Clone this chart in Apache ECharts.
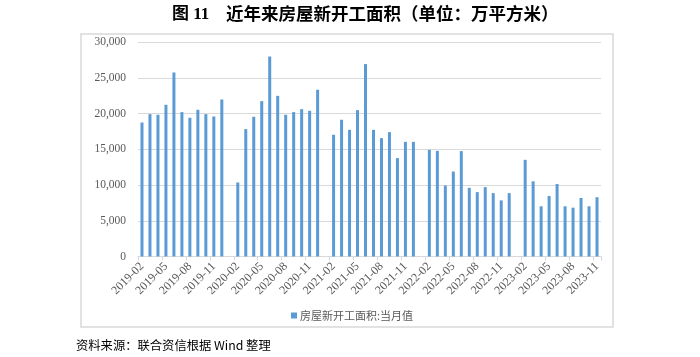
<!DOCTYPE html>
<html>
<head>
<meta charset="utf-8">
<script src="https://cdn.jsdelivr.net/npm/echarts@6/dist/echarts.min.js"></script>
<style>
html,body{margin:0;padding:0;background:#fff;}
#chart{width:700px;height:357px;}
</style>
</head>
<body>
<div id="chart"></div>
<script>
// Monthly categories 2019-02 .. 2023-11
const categories = [
  '2019-02','2019-03','2019-04','2019-05','2019-06','2019-07','2019-08','2019-09','2019-10','2019-11','2019-12',
  '2020-01','2020-02','2020-03','2020-04','2020-05','2020-06','2020-07','2020-08','2020-09','2020-10','2020-11','2020-12',
  '2021-01','2021-02','2021-03','2021-04','2021-05','2021-06','2021-07','2021-08','2021-09','2021-10','2021-11','2021-12',
  '2022-01','2022-02','2022-03','2022-04','2022-05','2022-06','2022-07','2022-08','2022-09','2022-10','2022-11','2022-12',
  '2023-01','2023-02','2023-03','2023-04','2023-05','2023-06','2023-07','2023-08','2023-09','2023-10','2023-11'
];
// 房屋新开工面积:当月值 (万平方米); January not published (null)
const newStarts = [
  18770, 19940, 19850, 21250, 25770, 20220, 19430, 20550, 19940, 19610, 21990,
  null, 10370, 17840, 19570, 21760, 28010, 22500, 19850, 20220, 20640, 20410, 23350,
  null, 17050, 19150, 17740, 20500, 26950, 17740, 16580, 17420, 13780, 16060, 16060,
  null, 14940, 14800, 9940, 11900, 14760, 9620, 9020, 9720, 8880, 7860, 8880,
  null, 13540, 10530, 7030, 8480, 10150, 7030, 6840, 8200, 7030, 8300
];
const seriesName = '房屋新开工面积:当月值';
const titleFig = '图 11';
const titleText = '近年来房屋新开工面积（单位：万平方米）';
const sourceText = '资料来源：联合资信根据 Wind 整理';

const chart = echarts.init(document.getElementById('chart'), null, {renderer: 'canvas'});
const serif = '"Liberation Serif", "Noto Sans CJK SC", serif';
const cjk = '"Noto Sans CJK SC", "Liberation Serif", serif';

chart.setOption({
  animation: false,
  backgroundColor: '#ffffff',
  grid: {left: 138, right: 99, top: 42.3, bottom: 100.5, containLabel: false},
  legend: {
    data: [seriesName],
    left: 286, top: 305,
    itemWidth: 6, itemHeight: 6, itemGap: 4,
    icon: 'rect',
    textStyle: {color: '#595959', fontSize: 11, fontFamily: cjk, padding: [0,0,0,-2]}
  },
  xAxis: {
    type: 'category',
    data: categories,
    boundaryGap: true,
    axisLine: {lineStyle: {color: '#d9d9d9', width: 1}},
    axisTick: {show: true, interval: 2, length: 4, lineStyle: {color: '#d9d9d9'}},
    axisLabel: {interval: 2, rotate: 45, margin: 8, color: '#595959', fontSize: 12, fontFamily: serif}
  },
  yAxis: {
    type: 'value',
    min: 0, max: 30000, interval: 5000,
    axisLine: {show: false},
    axisTick: {show: false},
    splitLine: {lineStyle: {color: '#d9d9d9', width: 1}},
    axisLabel: {
      margin: 12, color: '#595959', fontSize: 11.5, fontFamily: serif,
      formatter: v => v.toLocaleString('en-US')
    }
  },
  series: [{
    name: seriesName,
    type: 'bar',
    data: newStarts,
    barWidth: 3,
    itemStyle: {color: '#5B9BD5'}
  }],
  graphic: [
    {type: 'rect', shape: {x: 81, y: 34, width: 532, height: 293},
     style: {fill: 'none', stroke: '#d9d9d9', lineWidth: 1.5}, z: -1, silent: true},
    {type: 'text', left: 172, top: 6,
     style: {text: titleFig, font: 'bold 17px "Liberation Serif", "Noto Sans CJK SC", serif', fill: '#000'}},
    {type: 'text', left: 226, top: 5,
     style: {text: titleText, font: 'bold 17.5px "Noto Sans CJK SC", sans-serif', fill: '#000'}},
    {type: 'text', left: 76, top: 339,
     style: {text: sourceText, font: '12.3px "Noto Sans CJK SC", "Liberation Serif", serif', fill: '#000'}}
  ]
});
</script>
</body>
</html>
